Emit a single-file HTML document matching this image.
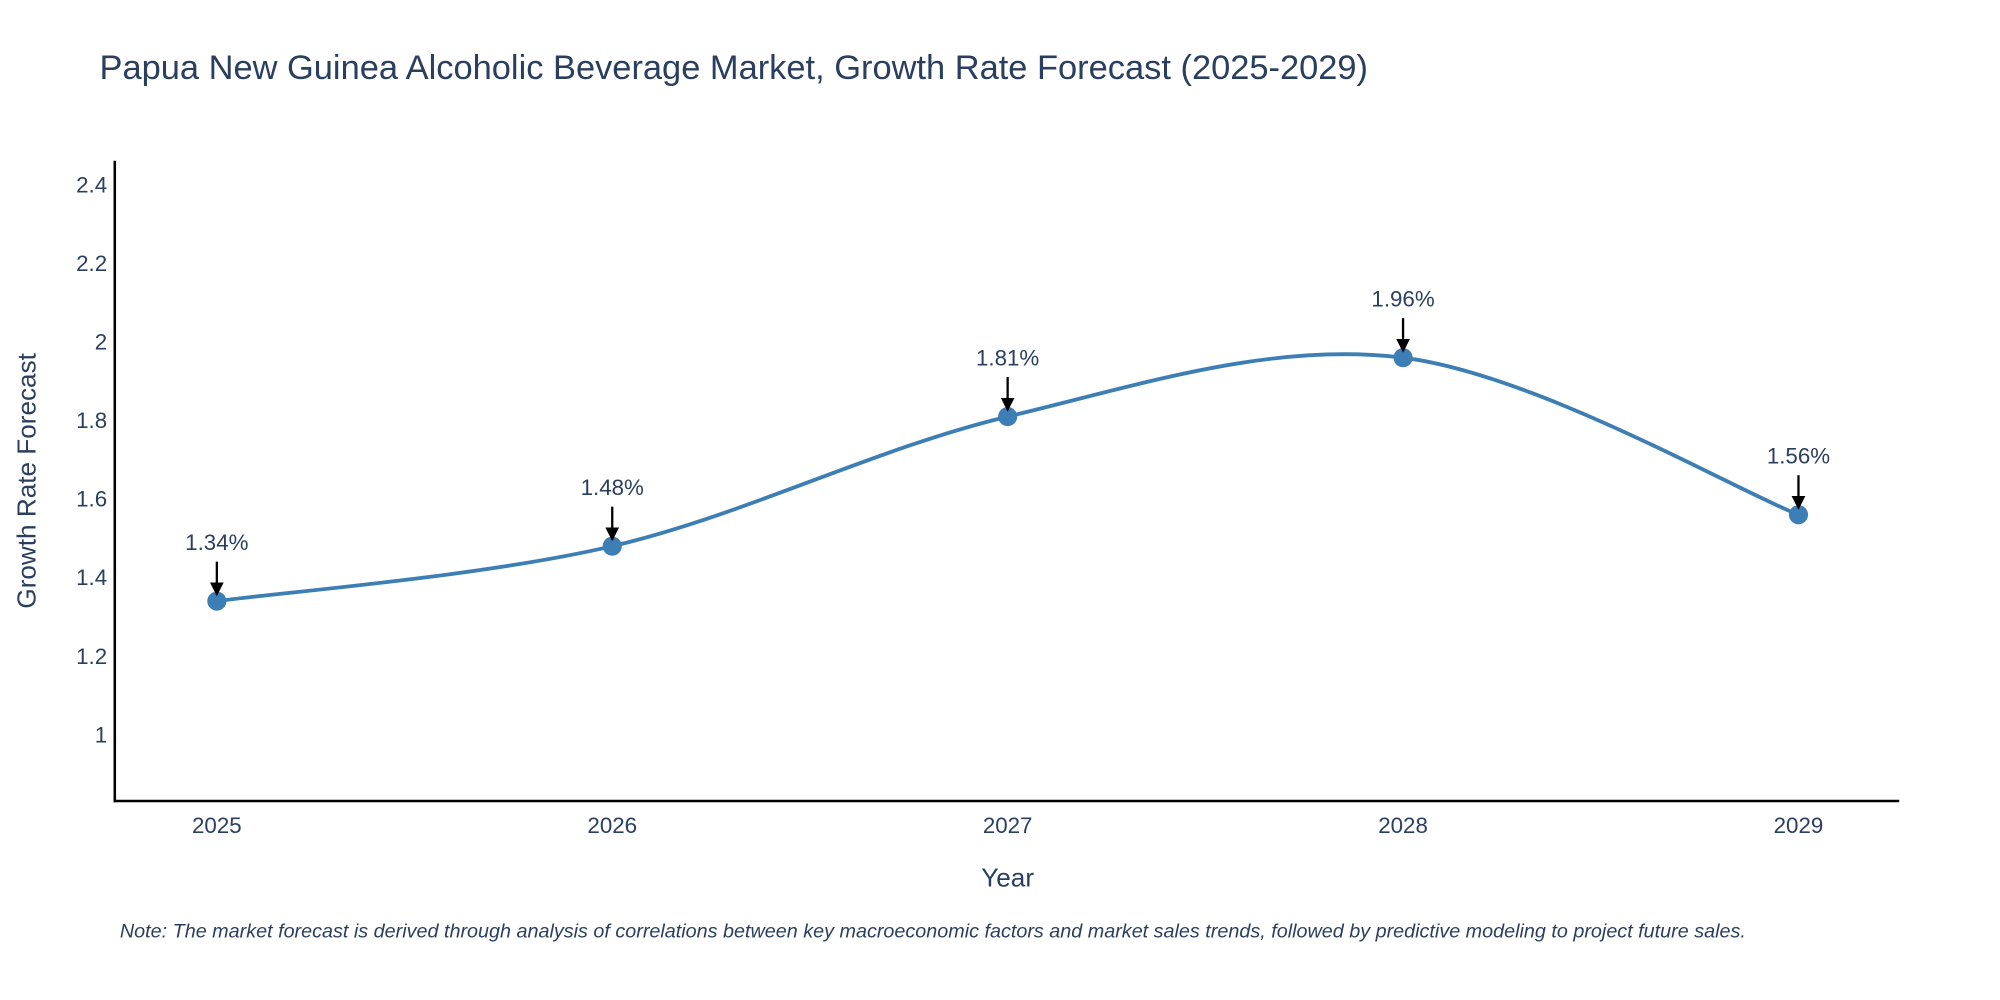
<!DOCTYPE html>
<html><head><meta charset="utf-8"><style>
html,body{margin:0;padding:0;background:#fff;}
svg{display:block;font-family:"Liberation Sans",sans-serif;}
</style></head><body>
<svg id="chart" width="2000" height="1000" viewBox="0 0 1568 784" xmlns="http://www.w3.org/2000/svg">
<defs><marker id="ah" viewBox="0 0 10 10" refX="9" refY="5" markerWidth="6" markerHeight="6" orient="auto"><path d="M0,0 L10,5 L0,10 z" fill="#000"/></marker></defs>
<rect width="1568" height="784" fill="#fff"/>
<text x="78" y="62" font-size="27" fill="#2a3f5f">Papua New Guinea Alcoholic Beverage Market, Growth Rate Forecast (2025-2029)</text>
<g id="yticks"></g><g id="xticks"></g>
<line x1="90" y1="126" x2="90" y2="629" stroke="#000" stroke-width="2"/>
<line x1="89" y1="628" x2="1489" y2="628" stroke="#000" stroke-width="2"/>
<text transform="translate(28,377) rotate(-90)" text-anchor="middle" font-size="20.5" fill="#2a3f5f">Growth Rate Forecast</text>
<text x="790" y="695" text-anchor="middle" font-size="20.5" fill="#2a3f5f">Year</text>
<g id="series"></g>
<text x="94" y="735" font-size="15.5" font-style="italic" fill="#2a3f5f">Note: The market forecast is derived through analysis of correlations between key macroeconomic factors and market sales trends, followed by predictive modeling to project future sales.</text>
</svg>
<script>
const years = [2025, 2026, 2027, 2028, 2029];
const rates = [1.34, 1.48, 1.81, 1.96, 1.56];
const yTickValues = [1, 1.2, 1.4, 1.6, 1.8, 2, 2.2, 2.4];
const yTickLabels = ["1", "1.2", "1.4", "1.6", "1.8", "2", "2.2", "2.4"];
const NS = "http://www.w3.org/2000/svg";
function xs(v){ return 170 + (v - 2025) * 310; }
function ys(v){ return 576 - (v - 1) * 307.9; }
function mk(tag, attrs, parent){ const e = document.createElementNS(NS, tag); for (const k in attrs) e.setAttribute(k, attrs[k]); parent.appendChild(e); return e; }
const yt = document.getElementById('yticks');
yTickValues.forEach((v,i)=>{
  const t = mk('text', {x: 84, y: ys(v)+6, 'text-anchor':'end', 'font-size':17.5, fill:'#2a3f5f'}, yt);
  
  
  t.textContent = yTickLabels[i];
});
const xt = document.getElementById('xticks');
years.forEach(y=>{
  const t = mk('text', {x: xs(y), y: 653, 'text-anchor':'middle', 'font-size':17.5, fill:'#2a3f5f'}, xt);
  
  
  t.textContent = String(y);
});
const g = document.getElementById('series');
const P = years.map((y,i)=>[xs(y), ys(rates[i])]);
let d = `M${P[0][0]},${P[0][1]}`;
for (let i=0;i<P.length-1;i++){
  const p0 = P[Math.max(0,i-1)], p1 = P[i], p2 = P[i+1], p3 = P[Math.min(P.length-1,i+2)];
  const c1 = [p1[0]+(p2[0]-p0[0])/6, p1[1]+(p2[1]-p0[1])/6];
  const c2 = [p2[0]-(p3[0]-p1[0])/6, p2[1]-(p3[1]-p1[1])/6];
  d += ` C${c1[0]},${c1[1]} ${c2[0]},${c2[1]} ${p2[0]},${p2[1]}`;
}
const line = mk('path', {d: d, fill:'none', stroke:'#3d7eb4', 'stroke-width':3}, g);


P.forEach((p,i)=>{
  const c = mk('circle', {cx:p[0], cy:p[1], r:7.5, fill:'#3d7eb4'}, g);
  
  
  const a = mk('line', {x1:p[0], y1:p[1]-31, x2:p[0], y2:p[1]-5, stroke:'#000', 'stroke-width':1.8, 'marker-end':'url(#ah)'}, g);
  
  
  const t = mk('text', {x:p[0], y:p[1]-40, 'text-anchor':'middle', 'font-size':17.5, fill:'#2a3f5f'}, g);
  
  
  t.textContent = rates[i].toFixed(2) + '%';
});
</script>
</body></html>
